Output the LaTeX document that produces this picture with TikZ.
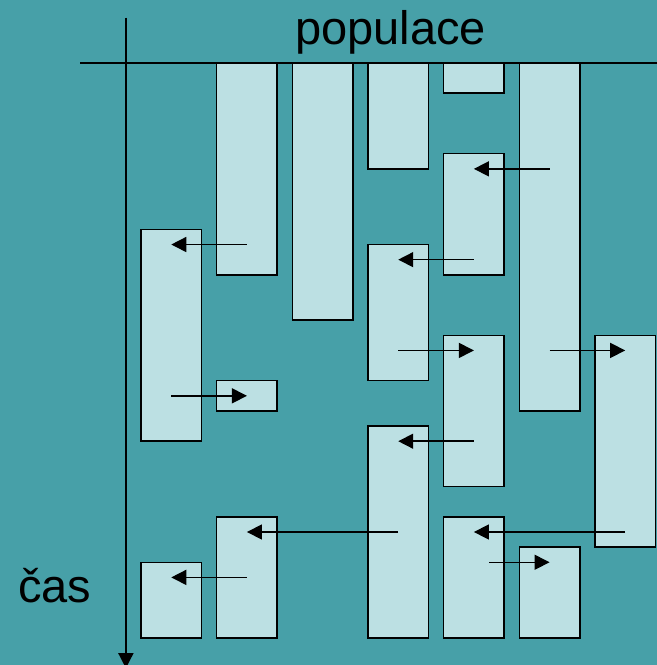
\documentclass[tikz,border=0pt]{standalone}
\usepackage{fontspec}
\setmainfont{Liberation Sans}
\usepackage{xcolor}
\definecolor{bg}{HTML}{47A0A8}
\definecolor{cellfill}{HTML}{BCE0E3}
\usepackage{tikz}
\usetikzlibrary{arrows.meta,calc}
\tikzset{
  >={Triangle[length=15pt,width=15pt]},
  cell/.style={draw=black,fill=cellfill,line width=1.5pt,inner sep=0pt,outer sep=0pt,minimum width=60.52pt,anchor=north west},
  arr/.style={->,draw=black,line width=1.5pt},
  axis/.style={draw=black,line width=1.5pt},
  lab/.style={font=\fontsize{47}{50}\selectfont,inner sep=0pt},
}
\begin{document}
\begin{tikzpicture}[x=15.13pt,y=-15.13pt]
\useasboundingbox[fill=bg] (-9.32,-4.16) rectangle (34.10,39.79);
% axes
\coordinate (p0) at (-4,0); \coordinate (p1) at (34.5,0);
\coordinate (t0) at (-1,-3); \coordinate (t1) at (-1,40);
\draw[axis] (p0) -- (p1);
\draw[axis,->] (t0) -- (t1);
\node[lab,anchor=base] (pop) at (16.49,-1.19) {populace};
\node[lab,anchor=base west] (cas) at (-8.13,35.69) {čas};
% individuals: name/column/start/end
\foreach \nm/\c/\s/\e in {b1/1/0/14, c1/2/0/17, d1/3/0/7, e1/4/0/2, f1/5/0/23,
  e2/4/6/14, a1/0/11/25, d2/3/12/21, b2/1/21/23, e3/4/18/28, g1/6/18/32,
  d3/3/24/38, b3/1/30/38, a2/0/33/38, e4/4/30/38, f2/5/32/38}{
  \node[cell,minimum height={(\e-\s)*15.13pt}] (\nm) at (5*\c,\s) {};
  \coordinate (\nm-in) at ([yshift=-15.13pt]\nm.north);
}
% transmissions
\foreach \src/\dst in {b1/a1, a1/b2, f1/e2, e2/d2, d2/e3, f1/g1, e3/d3,
  g1/e4, d3/b3, b3/a2}
  \draw[arr] (\src |- \dst-in) -- (\dst-in);
\coordinate (e4-out) at ([xshift=15.13pt]e4.center);
\draw[arr] (e4-out |- f2-in) -- (f2-in);
\end{tikzpicture}
\end{document}
